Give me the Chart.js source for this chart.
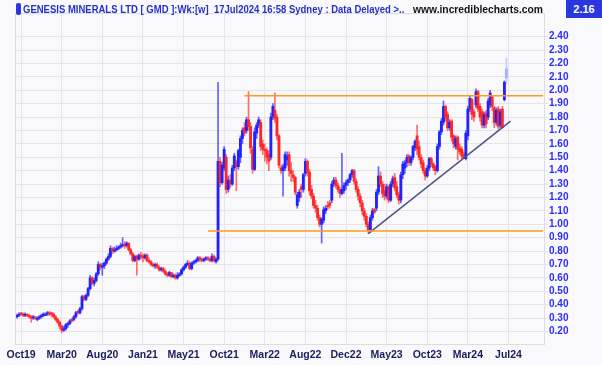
<!DOCTYPE html>
<html>
<head>
<meta charset="utf-8">
<script src="https://cdn.jsdelivr.net/npm/chart.js@4.4.1/dist/chart.umd.min.js"></script>
<style>
  html,body{margin:0;padding:0;background:#f9f9fc;}
  #wrap{position:relative;width:602px;height:365px;overflow:hidden;background:#f9f9fc;}
  #c{position:absolute;left:0;top:0;}
  .hdr{position:absolute;top:0;height:18px;line-height:18px;font-family:"Liberation Sans",Arial,sans-serif;font-weight:bold;font-size:10.5px;white-space:nowrap;}
  #icon{position:absolute;left:16px;top:3px;width:5px;height:12px;background:#2a36e0;border-radius:2px;}
  #ttl{left:23px;color:#2430c8;transform-origin:0 50%;transform:scaleX(0.905);}
  #url{left:413px;color:#111;transform-origin:0 50%;transform:scaleX(0.98);}
  #last{left:566px;width:36px;background:#2a36e0;color:#fff;text-align:center;font-size:11px;}
</style>
</head>
<body>
<div id="wrap">
  <canvas id="c" width="602" height="365"></canvas>
  <div id="icon"></div>
  <div class="hdr" id="ttl">GENESIS MINERALS LTD [ GMD ]:Wk:[w]&nbsp; 17Jul2024 16:58 Sydney : Data Delayed &gt;..</div>
  <div class="hdr" id="url">www.incrediblecharts.com</div>
  <div class="hdr" id="last">2.16</div>
</div>
<script>
// Weekly OHLC, Oct 2019 - Jul 2024
const opens = [
0.31,0.32,0.34,0.33,0.32,0.33,0.32,0.31,0.30,0.31,0.29,0.30,0.31,0.32,0.32,0.33,0.34,0.34,0.33,0.31,
0.29,0.27,0.24,0.21,0.22,0.25,0.26,0.29,0.29,0.31,0.35,0.34,0.37,0.46,0.44,0.47,0.52,0.60,0.56,0.58,
0.63,0.70,0.68,0.69,0.71,0.74,0.76,0.82,0.80,0.81,0.82,0.83,0.84,0.85,0.84,0.86,0.81,0.78,0.73,0.76,
0.74,0.77,0.76,0.75,0.77,0.73,0.72,0.70,0.69,0.70,0.68,0.66,0.67,0.65,0.63,0.62,0.64,0.61,0.62,0.60,
0.62,0.63,0.66,0.68,0.70,0.71,0.67,0.71,0.72,0.73,0.75,0.74,0.73,0.74,0.75,0.74,0.73,0.76,0.72,0.74,
1.47,1.31,1.42,1.50,1.26,1.33,1.30,1.42,1.46,1.43,1.50,1.64,1.72,1.70,1.78,1.73,1.56,1.41,1.68,1.74,
1.76,1.60,1.56,1.55,1.52,1.50,1.80,1.85,1.80,1.66,1.42,1.40,1.42,1.48,1.52,1.40,1.37,1.35,1.14,1.20,
1.28,1.26,1.38,1.47,1.39,1.26,1.21,1.14,1.12,1.05,1.00,1.03,1.10,1.14,1.16,1.18,1.30,1.33,1.29,1.26,
1.23,1.25,1.29,1.31,1.33,1.37,1.40,1.32,1.26,1.21,1.16,1.10,1.06,1.00,0.96,1.05,1.11,1.12,1.24,1.36,
1.30,1.25,1.21,1.28,1.18,1.30,1.35,1.28,1.22,1.18,1.37,1.42,1.46,1.51,1.46,1.50,1.57,1.66,1.58,1.50,
1.46,1.40,1.36,1.42,1.49,1.45,1.43,1.40,1.58,1.69,1.76,1.88,1.82,1.72,1.77,1.66,1.58,1.65,1.57,1.56,
1.52,1.49,1.66,1.86,1.93,1.84,1.89,1.99,1.88,1.84,1.74,1.83,1.80,1.89,1.95,1.87,1.76,1.86,1.74,1.86,
1.93,2.09];
const highs = [
0.33,0.34,0.34,0.34,0.34,0.33,0.33,0.32,0.32,0.31,0.31,0.32,0.33,0.34,0.34,0.35,0.35,0.34,0.34,0.32,
0.30,0.28,0.25,0.24,0.26,0.27,0.29,0.30,0.32,0.35,0.36,0.38,0.47,0.47,0.48,0.53,0.62,0.61,0.60,0.64,
0.72,0.71,0.71,0.72,0.75,0.78,0.84,0.83,0.83,0.84,0.84,0.86,0.90,0.87,0.87,0.86,0.82,0.79,0.77,0.77,
0.78,0.79,0.78,0.78,0.78,0.75,0.73,0.71,0.71,0.71,0.69,0.68,0.68,0.66,0.64,0.65,0.64,0.63,0.63,0.64,
0.64,0.67,0.69,0.71,0.73,0.72,0.72,0.73,0.74,0.76,0.76,0.75,0.75,0.76,0.76,0.75,0.78,0.77,0.75,2.06,
1.50,1.46,1.58,1.52,1.36,1.37,1.44,1.53,1.48,1.56,1.66,1.72,1.76,1.80,1.99,1.76,1.58,1.72,1.76,1.80,
1.78,1.63,1.60,1.57,1.55,1.83,1.90,1.98,1.82,1.67,1.44,1.45,1.54,1.54,1.54,1.46,1.40,1.36,1.24,1.26,
1.30,1.38,1.49,1.48,1.41,1.29,1.23,1.18,1.14,1.07,1.05,1.13,1.14,1.17,1.18,1.32,1.35,1.35,1.31,1.28,
1.53,1.31,1.33,1.34,1.38,1.41,1.41,1.34,1.28,1.23,1.18,1.12,1.08,1.02,1.07,1.12,1.12,1.26,1.43,1.39,
1.32,1.30,1.30,1.29,1.32,1.36,1.38,1.32,1.24,1.39,1.47,1.48,1.52,1.52,1.51,1.59,1.63,1.74,1.62,1.52,
1.48,1.42,1.44,1.50,1.50,1.46,1.44,1.60,1.70,1.79,1.92,1.89,1.84,1.78,1.78,1.67,1.66,1.66,1.60,1.58,
1.54,1.70,1.88,1.96,1.94,1.86,2.01,2.00,1.90,1.86,1.84,1.85,1.94,2.00,1.96,1.88,1.87,1.88,1.86,1.88,
2.07,2.24];
const lows = [
0.30,0.31,0.32,0.31,0.31,0.31,0.30,0.27,0.29,0.29,0.28,0.29,0.30,0.31,0.32,0.32,0.32,0.31,0.30,0.28,
0.26,0.22,0.19,0.20,0.21,0.23,0.25,0.27,0.28,0.30,0.33,0.33,0.36,0.43,0.43,0.46,0.51,0.55,0.54,0.57,
0.62,0.66,0.62,0.67,0.70,0.73,0.75,0.78,0.79,0.80,0.81,0.82,0.83,0.82,0.83,0.80,0.77,0.72,0.72,0.62,
0.73,0.74,0.72,0.74,0.72,0.71,0.69,0.68,0.67,0.67,0.65,0.65,0.64,0.62,0.61,0.61,0.60,0.60,0.59,0.59,
0.61,0.62,0.65,0.67,0.69,0.66,0.66,0.70,0.71,0.72,0.72,0.72,0.72,0.73,0.73,0.72,0.72,0.72,0.71,0.73,
1.28,1.30,1.40,1.23,1.24,1.27,1.29,1.40,1.25,1.41,1.46,1.60,1.66,1.68,1.70,1.53,1.38,1.40,1.64,1.72,
1.55,1.52,1.47,1.45,1.40,1.48,1.78,1.76,1.63,1.42,1.38,1.21,1.40,1.44,1.36,1.32,1.32,1.22,1.12,1.17,
1.20,1.24,1.36,1.36,1.22,1.19,1.12,1.09,1.03,0.98,0.86,1.01,1.08,1.11,1.12,1.16,1.28,1.27,1.24,1.20,
1.22,1.23,1.26,1.29,1.31,1.35,1.30,1.24,1.18,1.13,1.07,1.03,0.98,0.93,0.94,1.03,1.08,1.10,1.22,1.28,
1.20,1.18,1.19,1.16,1.17,1.28,1.25,1.20,1.15,1.16,1.34,1.38,1.43,1.44,1.44,1.48,1.55,1.52,1.48,1.42,
1.38,1.33,1.35,1.40,1.43,1.40,1.37,1.39,1.56,1.67,1.74,1.77,1.70,1.70,1.62,1.57,1.56,1.48,1.52,1.49,
1.50,1.48,1.63,1.84,1.78,1.77,1.87,1.84,1.77,1.72,1.72,1.72,1.78,1.87,1.85,1.72,1.74,1.71,1.72,1.72,
1.92,2.05];
const closes = [
0.32,0.33,0.33,0.32,0.33,0.32,0.31,0.30,0.31,0.30,0.30,0.31,0.32,0.33,0.33,0.34,0.33,0.33,0.31,0.29,
0.27,0.24,0.21,0.22,0.25,0.26,0.28,0.28,0.31,0.34,0.34,0.37,0.46,0.44,0.47,0.52,0.60,0.56,0.58,0.63,
0.70,0.68,0.69,0.71,0.74,0.76,0.82,0.80,0.81,0.82,0.83,0.84,0.85,0.84,0.86,0.81,0.78,0.73,0.76,0.74,
0.77,0.76,0.75,0.77,0.73,0.72,0.70,0.69,0.70,0.68,0.66,0.67,0.65,0.63,0.62,0.64,0.61,0.62,0.60,0.62,
0.63,0.66,0.68,0.70,0.71,0.67,0.71,0.72,0.73,0.75,0.74,0.73,0.74,0.75,0.74,0.73,0.76,0.73,0.74,1.47,
1.31,1.44,1.56,1.26,1.33,1.30,1.42,1.51,1.43,1.55,1.64,1.70,1.68,1.78,1.73,1.57,1.41,1.69,1.74,1.78,
1.58,1.56,1.55,1.50,1.47,1.80,1.88,1.79,1.66,1.44,1.40,1.43,1.52,1.51,1.40,1.38,1.35,1.24,1.22,1.24,
1.26,1.37,1.47,1.39,1.25,1.21,1.14,1.12,1.05,1.00,1.04,1.11,1.12,1.13,1.14,1.30,1.33,1.29,1.26,1.23,
1.26,1.29,1.31,1.33,1.37,1.40,1.32,1.26,1.21,1.16,1.10,1.06,1.00,0.96,1.05,1.10,1.09,1.24,1.36,1.30,
1.23,1.21,1.28,1.18,1.30,1.34,1.27,1.22,1.18,1.37,1.45,1.46,1.50,1.46,1.50,1.58,1.62,1.56,1.50,1.45,
1.40,1.36,1.42,1.49,1.45,1.42,1.40,1.58,1.69,1.77,1.88,1.80,1.72,1.76,1.65,1.60,1.64,1.56,1.54,1.51,
1.49,1.68,1.86,1.94,1.82,1.80,1.99,1.86,1.80,1.74,1.82,1.75,1.92,1.98,1.88,1.76,1.85,1.73,1.84,1.72,
2.06,2.16];

// Axis labels
const tickIdx  = [2,22,42,62,82,102,122,142,162,182,202,222,242];
const tickText = ['Oct19','Mar20','Aug20','Jan21','May21','Oct21','Mar22','Aug22','Dec22','May23','Oct23','Mar24','Jul24'];
const yTicks = [0.2,0.3,0.4,0.5,0.6,0.7,0.8,0.9,1.0,1.1,1.2,1.3,1.4,1.5,1.6,1.7,1.8,1.9,2.0,2.1,2.2,2.3,2.4];

// Support / resistance / trend lines [startIdx, startVal, endIdx, endVal]
const resistance = [112, 1.96, 259, 1.96];
const support    = [94, 0.95, 259, 0.95];
const trend      = [173, 0.93, 243, 1.77];

const NCAT = 260;
const cats = Array.from({length: NCAT}, (_, i) => String(i));
const n = closes.length;

const bodies = [], wicks = [], bodyCol = [], wickCol = [];
for (let i = 0; i < n; i++) {
  const lo = Math.min(opens[i], closes[i]), hi = Math.max(opens[i], closes[i]);
  bodies.push([lo, hi === lo ? hi + 0.004 : hi]);
  wicks.push([lows[i], highs[i]]);
  const up = closes[i] >= opens[i];
  const last = i === n - 1;
  bodyCol.push(last ? '#a7b0ff' : (up ? '#2222ff' : '#ff2626'));
  wickCol.push(last ? '#c3c9ff' : (up ? 'rgba(60,60,255,0.8)' : 'rgba(255,60,60,0.75)'));
}

const seg = (a) => [{x: String(a[0]), y: a[1]}, {x: String(a[2]), y: a[3]}];

const frame = {
  id: 'frame',
  beforeDatasetsDraw(chart) {
    const {ctx, chartArea: a} = chart;
    ctx.save();
    ctx.strokeStyle = '#dcdce2';
    ctx.lineWidth = 1;
    ctx.strokeRect(Math.round(a.left) - 0.5, Math.round(a.top) - 0.5, Math.round(a.right - a.left) + 1, Math.round(a.bottom - a.top) + 1);
    ctx.restore();
  }
};

new Chart(document.getElementById('c'), {
  type: 'bar',
  data: {
    labels: cats,
    datasets: [
      {type: 'line', data: seg(resistance), borderColor: '#ff9a1a', borderWidth: 1.5, pointRadius: 0, order: 0},
      {type: 'line', data: seg(support), borderColor: '#ff9a1a', borderWidth: 1.5, pointRadius: 0, order: 0},
      {type: 'line', data: seg(trend), borderColor: '#52528c', borderWidth: 1.5, pointRadius: 0, order: 0},
      {data: bodies, backgroundColor: bodyCol, barThickness: 2.2, grouped: false, order: 1, borderWidth: 0},
      {data: wicks, backgroundColor: wickCol, barThickness: 1, grouped: false, order: 2, borderWidth: 0}
    ]
  },
  options: {
    responsive: false,
    animation: false,
    events: [],
    layout: {padding: {left: 16, top: 14, right: 0, bottom: 0}},
    plugins: {legend: {display: false}, tooltip: {enabled: false}, title: {display: false}},
    scales: {
      x: {
        offset: true,
        afterBuildTicks: s => { s.ticks = tickIdx.map(v => ({value: v})); },
        afterFit: s => { s.height = 21; },
        grid: {offset: false, color: '#e4e4ea', drawTicks: false},
        border: {display: false},
        ticks: {
          autoSkip: false, maxRotation: 0, padding: 5, color: '#1c1c5c',
          font: {family: 'Liberation Sans', weight: 'bold', size: 10.5},
          callback: v => tickText[tickIdx.indexOf(v)]
        }
      },
      y: {
        position: 'right',
        min: 0.107, max: 2.569,
        afterBuildTicks: s => { s.ticks = yTicks.map(v => ({value: v})); },
        afterFit: s => { s.width = 58; },
        grid: {color: '#e4e4ea', tickLength: 4},
        border: {display: false},
        ticks: {
          autoSkip: false, padding: 1, color: '#2b2bff',
          font: {family: 'Liberation Sans', weight: 'bold', size: 10},
          callback: v => Number(v).toFixed(2)
        }
      }
    }
  },
  plugins: [frame]
});
</script>
</body>
</html>
